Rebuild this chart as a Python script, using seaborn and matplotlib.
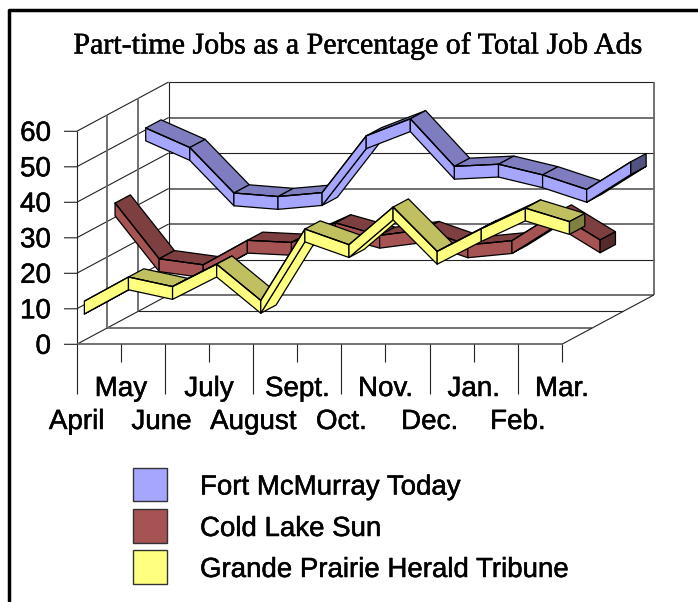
import matplotlib
matplotlib.use("Agg")
import matplotlib.patheffects as pe
import matplotlib.pyplot as plt
from matplotlib.patches import Rectangle
import numpy as np
import seaborn as sns

WIDTH, HEIGHT = 698, 602
X0_PX, Y0_PX = 76.7, 344.3      # front-left corner of the floor
X_STEP_PX, Y_UNIT_PX = 44.1, 3.55
DEPTH_X = 92 / X_STEP_PX        # full floor depth in data units
DEPTH_Y = 49.3 / Y_UNIT_PX
RIBBON_HEIGHT = 3.6

months = ["April", "May", "June", "July", "August", "Sept.",
          "Oct.", "Nov.", "Dec.", "Jan.", "Feb.", "Mar."]
y_ticks = [0, 10, 20, 30, 40, 50, 60]

fort_mcmurray = [48.7, 43.2, 30.4, 29.4, 30.5, 46.5, 51.3, 37.9, 38.5, 35.5, 31.4, 39.2]
cold_lake = [32.2, 16.5, 14.8, 21.7, 21.1, 26.6, 23.1, 24.7, 20.4, 21.6, 29.4, 21.8]
grande_prairie = [9.2, 16.0, 13.3, 19.6, 9.4, 29.5, 25.1, 35.7, 23.2, 29.6, 35.4, 31.6]

series_names = ["Fort McMurray Today", "Cold Lake Sun", "Grande Prairie Herald Tribune"]
series_values = [fort_mcmurray, cold_lake, grande_prairie]
face_colors = ["#A6A6FF", "#A65353", "#FFFF80"]
top_colors = ["#7D7DC0", "#7D3F3F", "#C0C060"]
end_colors = ["#535380", "#542A2A", "#808040"]
rows = [2, 1, 0]                # depth row, drawn back to front

# the source raster rendered some grid lines heavy grey, others thin black
HEAVY = dict(color="#666666", lw=1.3)
THIN = dict(color="#222222", lw=0.8)
back_grid_style = {0: HEAVY, 10: THIN, 20: HEAVY, 30: HEAVY, 40: THIN, 50: HEAVY, 60: THIN}
MONTH_NUDGE_PX = {"June": -3.5}
TEXT_WEIGHT = [pe.withStroke(linewidth=0.35, foreground="black")]


def project(x, y, depth):
    return x + depth * DEPTH_X, y + depth * DEPTH_Y


def px_x(px):
    return (px - X0_PX) / X_STEP_PX


def px_y(px):
    return (Y0_PX - px) / Y_UNIT_PX


def wall_line(ax, xs, ys, style=THIN):
    ax.plot(xs, ys, zorder=1, solid_capstyle="butt", **style)


def draw_walls(ax):
    for value in y_ticks:
        bx, by = project(0, value, 1)
        wall_line(ax, [px_x(64), 0, bx], [value, value, by])
        wall_line(ax, [bx, project(11, value, 1)[0]], [by, by], back_grid_style[value])
    wall_line(ax, [0, 0], [0, 60])
    for depth, style in ((1 / 3, HEAVY), (2 / 3, THIN)):
        bx, by = project(0, 0, depth)
        wall_line(ax, [bx, bx], [by, by + 60], HEAVY)
        wall_line(ax, [bx, project(11, 0, depth)[0]], [by, by], style)
    bx, by = project(0, 0, 1)
    wall_line(ax, [bx, bx], [by, by + 60])
    bx, by = project(11, 0, 1)
    wall_line(ax, [bx, bx], [by, by + 60], HEAVY)
    wall_line(ax, [11, bx], [0, by])
    wall_line(ax, [0, 11], [0, 0], HEAVY)
    for i in range(12):
        wall_line(ax, [i, i], [0, px_y(394 if i % 2 == 0 else 362)])


def draw_ribbon(ax, values, row, face, top, end, order):
    start = (row + 0.25) / 3
    stop = (row + 0.75) / 3
    half = RIBBON_HEIGHT / 2
    slope_limit = DEPTH_Y / DEPTH_X
    h = RIBBON_HEIGHT
    style = dict(edgecolor="black", linewidth=0.9, joinstyle="round")
    for i in range(len(values) - 1):
        y1, y2 = values[i], values[i + 1]
        x1_f, y1_f = project(i, y1 + half, start)
        x2_f, y2_f = project(i + 1, y2 + half, start)
        x1_b, y1_b = project(i, y1 + half, stop)
        x2_b, y2_b = project(i + 1, y2 + half, stop)
        if y2 - y1 < slope_limit:
            ax.fill([x1_f, x2_f, x2_b, x1_b], [y1_f, y2_f, y2_b, y1_b],
                    facecolor=top, zorder=order, **style)
        else:
            ax.fill([x1_f, x2_f, x2_b, x1_b],
                    [y1_f - h, y2_f - h, y2_b - h, y1_b - h],
                    facecolor=face, zorder=order, **style)
        ax.fill([x1_f, x2_f, x2_f, x1_f], [y1_f, y2_f, y2_f - h, y1_f - h],
                facecolor=face, zorder=order, **style)
        order += 0.01
    last = values[-1] + half
    xf, yf = project(len(values) - 1, last, start)
    xb, yb = project(len(values) - 1, last, stop)
    ax.fill([xf, xb, xb, xf], [yf, yb, yb - h, yf - h],
            facecolor=end, zorder=order, **style)


sns.set_theme(style="white")
plt.rcParams["font.family"] = ["Liberation Sans", "DejaVu Sans"]

fig = plt.figure(figsize=(WIDTH / 100, HEIGHT / 100), dpi=100, facecolor="white")
ax = fig.add_axes([0, 0, 1, 1])
ax.set_xlim(px_x(0), px_x(WIDTH))
ax.set_ylim(px_y(HEIGHT), px_y(0))
ax.axis("off")

draw_walls(ax)

for k, (values, row) in enumerate(zip(series_values, rows)):
    draw_ribbon(ax, values, row, face_colors[k], top_colors[k], end_colors[k], 3 + k)
    # front top edge of each ribbon
    xs, ys = project(np.arange(12), np.array(values) + RIBBON_HEIGHT / 2, (row + 0.25) / 3)
    sns.lineplot(x=xs, y=ys, color="black", lw=0.9, sort=False, ax=ax, zorder=3.5 + k)

ax.text(px_x(358), px_y(46), "Part-time Jobs as a Percentage of Total Job Ads",
        family="Liberation Serif", fontsize=21.6, color="black", ha="center", va="center",
        path_effects=TEXT_WEIGHT)

for value in y_ticks:
    ax.text(px_x(51), value - 2.5 / Y_UNIT_PX, str(value), fontsize=20, color="black",
            ha="right", va="center", path_effects=TEXT_WEIGHT)

for i, month in enumerate(months):
    x = i + MONTH_NUDGE_PX.get(month, 0) / X_STEP_PX
    ax.text(x, px_y(389 if i % 2 else 422), month, fontsize=20, color="black",
            ha="center", va="center", path_effects=TEXT_WEIGHT)

swatch_tops = [467.5, 509, 550]
for name, color, top in zip(series_names, face_colors, swatch_tops):
    ax.add_patch(Rectangle((px_x(133), px_y(top + 33.5)), 34 / X_STEP_PX, 33.5 / Y_UNIT_PX,
                           facecolor=color, edgecolor="#333333", lw=1.0))
    ax.text(px_x(200), px_y(top + 20), name, fontsize=19.9, color="black", ha="left", va="center",
            path_effects=TEXT_WEIGHT)

# outer frame of the original picture
ax.plot([px_x(8.5), px_x(8.5), px_x(698)], [px_y(602), px_y(9.7), px_y(9.7)],
        color="black", lw=2.5, solid_capstyle="butt", zorder=10)

fig.savefig("out.png", dpi=100)
